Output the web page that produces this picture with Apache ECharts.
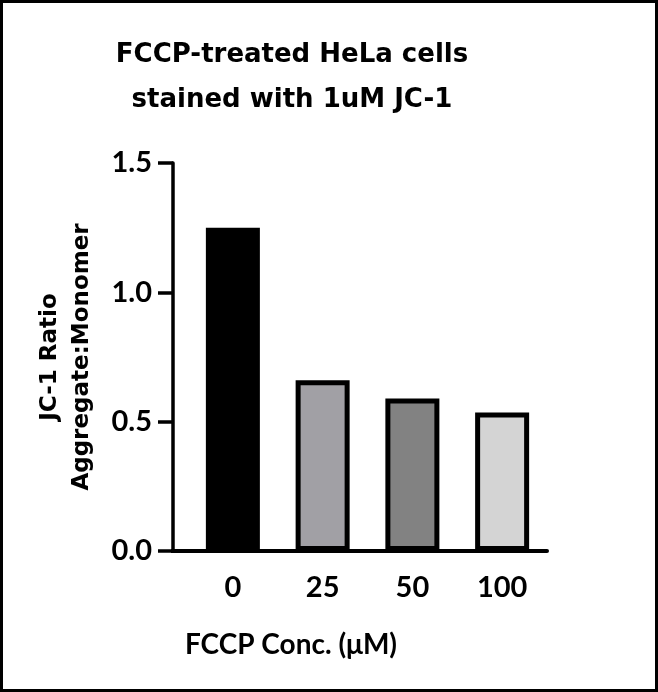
<!DOCTYPE html>
<html>
<head>
<meta charset="utf-8">
<script src="https://cdn.jsdelivr.net/npm/echarts@6/dist/echarts.min.js"></script>
<style>
  html, body { margin: 0; padding: 0; background: #fff; }
  #main { position: absolute; left: 0; top: 0; width: 658px; height: 692px; }
  #frame { position: absolute; left: 0; top: 0; width: 658px; height: 692px;
    box-sizing: border-box; border: 3px solid #000; pointer-events: none; }
</style>
</head>
<body>
<div id="main"></div>
<div id="frame"></div>
<script>
// FCCP concentrations (uM)
var categories = ['0', '25', '50', '100']
// JC-1 aggregate:monomer ratio
var ratioValues = [1.25, 0.66, 0.59, 0.535]
var barColors = ['#000000', '#a1a0a5', '#828282', '#d4d4d4']
var yTicks = [0, 0.5, 1.0, 1.5]

var FONT = 'Lato'
var WIDE_FONT = 'DejaVu Sans'

var chart = echarts.init(document.getElementById('main'))

chart.setOption({
  animation: false,
  title: {
    text: 'FCCP-treated HeLa cells\nstained with 1uM JC-1',
    left: 292,
    top: 33,
    padding: 0,
    textAlign: 'center',
    textStyle: {
      fontFamily: WIDE_FONT,
      fontWeight: 'bold',
      fontSize: 26,
      lineHeight: 45,
      color: '#000'
    }
  },
  grid: {
    left: 188,
    right: 111,
    top: 163,
    bottom: 141,
    containLabel: false
  },
  xAxis: {
    type: 'category',
    data: categories,
    name: 'FCCP Conc. (\u03bcM)',
    nameLocation: 'middle',
    nameGap: 80,
    nameTextStyle: {
      fontFamily: FONT,
      fontWeight: 'bold',
      fontSize: 28,
      color: '#000',
      padding: [0, 153, 0, 0]
    },
    axisLine: {
      lineStyle: { color: '#000', width: 4 }
    },
    axisTick: {
      alignWithLabel: true,
      length: 14,
      lineStyle: { color: '#000', width: 3.5 }
    },
    axisLabel: {
      margin: 22,
      fontFamily: FONT,
      fontWeight: 'bold',
      fontSize: 29,
      color: '#000'
    }
  },
  yAxis: {
    type: 'value',
    min: yTicks[0],
    max: yTicks[yTicks.length - 1],
    interval: 0.5,
    offset: 15,
    name: 'JC-1 Ratio\nAggregate:Monomer',
    nameLocation: 'middle',
    nameGap: 75,
    nameTextStyle: {
      fontFamily: WIDE_FONT,
      fontWeight: 'bold',
      fontSize: 23,
      lineHeight: 32,
      color: '#000'
    },
    axisLine: {
      show: true,
      lineStyle: { color: '#000', width: 3.5 }
    },
    axisTick: {
      show: true,
      length: 15,
      lineStyle: { color: '#000', width: 3.5 }
    },
    splitLine: { show: false },
    axisLabel: {
      margin: 21,
      fontFamily: FONT,
      fontWeight: 'bold',
      fontSize: 29,
      color: '#000',
      formatter: function (v) { return v.toFixed(1) }
    }
  },
  // short piece of the x axis between the offset y axis and the grid
  graphic: [{
    type: 'line',
    shape: { x1: 171, y1: 551, x2: 190, y2: 551 },
    style: { stroke: '#000', lineWidth: 4 }
  }],
  series: [{
    type: 'bar',
    barWidth: 54,
    data: ratioValues.map(function (v, i) {
      return {
        value: v,
        itemStyle: { color: barColors[i], borderColor: '#000', borderWidth: 5 }
      }
    })
  }]
})
</script>
</body>
</html>
